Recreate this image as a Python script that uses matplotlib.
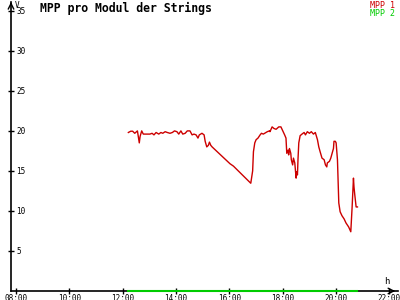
import matplotlib.pyplot as plt

# MPP 1 (hours, volts)
t1 = [12.21, 12.30, 12.37, 12.45, 12.55, 12.62, 12.65, 12.71, 12.77, 12.90, 13.02, 13.10,
      13.17, 13.25, 13.35, 13.43, 13.50, 13.59, 13.67, 13.77, 13.86, 13.94, 14.03, 14.10,
      14.18, 14.25, 14.34, 14.42, 14.52, 14.60, 14.67, 14.75, 14.82, 14.87, 14.97, 15.05,
      15.09, 15.15, 15.21, 15.25, 15.30, 15.35, 16.02, 16.15, 16.80, 16.87, 16.90, 16.95,
      17.00, 17.07, 17.15, 17.20, 17.27, 17.37, 17.42, 17.50, 17.52, 17.60, 17.67, 17.75,
      17.85, 17.93, 18.00, 18.07, 18.12, 18.15, 18.20, 18.22, 18.25, 18.30, 18.32, 18.37,
      18.40, 18.45, 18.50, 18.52, 18.55, 18.57, 18.60, 18.65, 18.72, 18.80, 18.85, 18.92,
      19.00, 19.07, 19.15, 19.22, 19.30, 19.35, 19.40, 19.47, 19.55, 19.60, 19.65, 19.67,
      19.75, 19.80, 19.85, 19.90, 19.92, 19.97, 20.00, 20.05, 20.10, 20.15, 20.22, 20.30,
      20.37, 20.47, 20.55, 20.60, 20.65, 20.67, 20.70, 20.75, 20.80]
v1 = [19.8, 19.96, 19.96, 19.7, 20.0, 18.5, 19.3, 20.0, 19.6, 19.6, 19.6, 19.7,
      19.5, 19.8, 19.6, 19.8, 19.7, 19.9, 19.8, 19.7, 19.8, 20.0, 19.9, 19.6,
      20.0, 19.6, 19.7, 20.0, 20.0, 19.5, 19.6, 19.5, 19.1, 19.5, 19.7, 19.5,
      18.7, 18.0, 18.2, 18.6, 18.2, 18.0, 15.9, 15.6, 13.46, 15.0, 17.4, 18.5,
      18.9, 19.1, 19.5, 19.7, 19.6, 19.8, 19.9, 20.0, 19.9, 20.5, 20.3, 20.2,
      20.5, 20.5, 20.0, 19.5, 19.1, 17.2, 17.6, 17.0, 17.8, 17.2, 16.4, 15.75,
      16.6, 16.0, 14.1, 14.9, 14.5, 16.4, 18.5, 19.4, 19.6, 19.8, 19.5, 19.9,
      19.7, 19.9, 19.6, 19.8, 18.9, 18.0, 17.4, 16.6, 16.4, 15.75, 15.5, 16.0,
      16.2, 16.6, 17.2, 17.8, 18.7, 18.7, 18.5, 16.4, 11.0, 9.9, 9.4, 9.0,
      8.5, 8.0, 7.4, 10.5, 14.1, 13.0, 12.0, 10.5, 10.5]

# MPP 2
t2 = [12.2, 20.8]
v2 = [0, 0]

x_ticks = [8, 10, 12, 14, 16, 18, 20, 22]
x_labels = ["08:00", "10:00", "12:00", "14:00", "16:00", "18:00", "20:00", "22:00"]
y_ticks = [5, 10, 15, 20, 25, 30, 35]

red = "#cc0000"
green = "#00cc00"
mono = "DejaVu Sans Mono"

fig = plt.figure(figsize=(4, 3), dpi=100)
ax = fig.add_axes([11 / 400, 9 / 300, 387 / 400, 289 / 300])
ax.set_xlim(7.81, 22.32)
ax.set_ylim(0, 36.1)

for s in ["top", "right"]:
    ax.spines[s].set_visible(False)
ax.spines["left"].set_linewidth(1.2)
ax.spines["bottom"].set_linewidth(1.2)

ax.plot(t1, v1, color=red, lw=1, zorder=3)
ax.plot(t2, v2, color=green, lw=1.5, zorder=4, clip_on=False)

ax.set_xticks(x_ticks)
ax.set_xticklabels(x_labels, fontfamily=mono, fontsize=5.5)
ax.set_yticks(y_ticks)
ax.set_yticklabels([str(y) for y in y_ticks], fontfamily=mono, fontsize=5.5)
ax.tick_params(axis="both", direction="inout", length=5, width=1)
ax.tick_params(axis="x", pad=0)
ax.tick_params(axis="y", pad=-6.5)
for lab in ax.get_yticklabels():
    lab.set_horizontalalignment("left")

# axis arrows
ax.annotate("", xy=(22.32, 0), xytext=(22.0, 0),
            arrowprops=dict(arrowstyle="->", lw=1, color="black"),
            annotation_clip=False)
ax.annotate("", xy=(7.81, 36.1), xytext=(7.81, 35.5),
            arrowprops=dict(arrowstyle="->", lw=1, color="black"),
            annotation_clip=False)
fig.text(15 / 400, 1 - 5 / 300, "V", fontfamily=mono, fontsize=5.5, va="center", ha="left")
fig.text(387 / 400, 1 - 281 / 300, "h", fontfamily=mono, fontsize=6.5, va="center", ha="center")

fig.text(40 / 400, 1 - 8 / 300, "MPP pro Modul der Strings", fontfamily=mono,
         fontsize=8.3, fontweight="bold", va="center", ha="left")
fig.text(395 / 400, 1 - 5 / 300, "MPP 1", color=red, fontfamily=mono, fontsize=6,
         va="center", ha="right")
fig.text(395 / 400, 1 - 13 / 300, "MPP 2", color=green, fontfamily=mono, fontsize=6,
         va="center", ha="right")

fig.savefig("out.png", dpi=100)
